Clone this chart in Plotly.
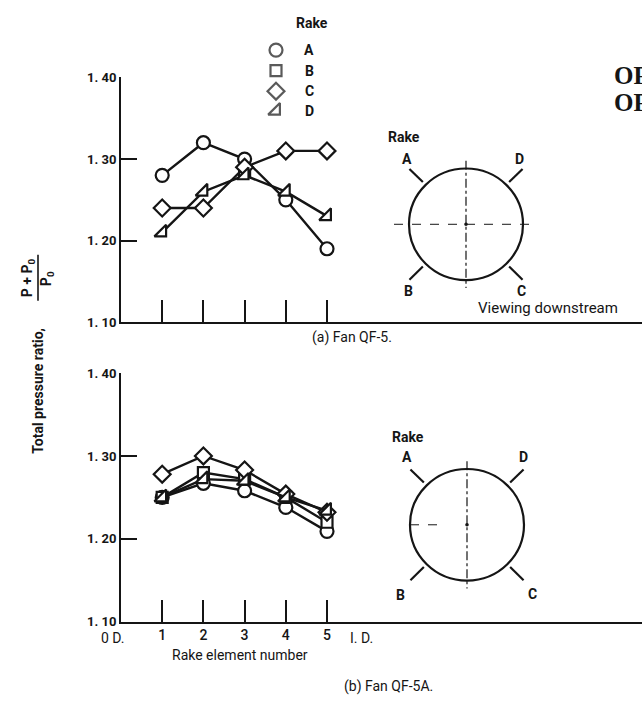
import plotly.graph_objects as go

W, H = 642, 708

# ---------------- data ----------------
elements = [1, 2, 3, 4, 5]
rakes = ["A", "B", "C", "D"]
symbols = {"A": "circle", "B": "square", "C": "diamond", "D": "triangle-se"}
sizes = {"A": 13, "B": 11, "C": 13, "D": 13}

qf5 = {
    "A": [1.28, 1.32, 1.30, 1.25, 1.19],
    "B": [None, None, 1.285, None, None],
    "C": [1.24, 1.24, 1.29, 1.31, 1.31],
    "D": [1.21, 1.26, 1.28, 1.26, 1.23],
}
qf5a = {
    "A": [1.25, 1.267, 1.258, 1.238, 1.209],
    "B": [1.25, 1.28, 1.272, 1.25, 1.22],
    "C": [1.278, 1.30, 1.283, 1.254, 1.232],
    "D": [1.25, 1.272, 1.27, 1.25, 1.234],
}
y_ticks = [1.10, 1.20, 1.30, 1.40]
y_ticktext = ["1. 10", "1. 20", "1. 30", "1. 40"]
x_ticktext = ["1", "2", "3", "4", "5"]

FONT = "Roboto, Liberation Sans, DejaVu Sans, sans-serif"
INK = "#151515"


def px(x):
    return x / W


def py(y):
    return 1 - y / H


fig = go.Figure()

for panel, data in (("1", qf5), ("2", qf5a)):
    for r in rakes:
        fig.add_trace(go.Scatter(
            x=elements, y=data[r], mode="lines+markers",
            xaxis="x" + ("" if panel == "1" else "2"),
            yaxis="y" + ("" if panel == "1" else "2"),
            line=dict(color=INK, width=2.4),
            marker=dict(symbol=symbols[r], size=sizes[r], color="white",
                        line=dict(color=INK, width=2.2)),
            showlegend=False, connectgaps=False,
        ))

# legend symbols drawn on a pixel-coordinate helper axis
leg_y = [44, 65, 86, 106]
fig.add_trace(go.Scatter(
    x=[276] * 4, y=leg_y, mode="markers", xaxis="x3", yaxis="y3",
    marker=dict(symbol=[symbols[r] for r in rakes], size=[13, 11, 13, 13],
                color="white", line=dict(color=INK, width=2.2)),
    showlegend=False, hoverinfo="skip",
))

x_range = [0, (W - 121) / 41.2]
common_x = dict(range=x_range, showline=True, linecolor=INK, linewidth=2,
                ticks="inside", ticklen=22, tickwidth=2, tickcolor=INK,
                tickvals=elements, showgrid=False, zeroline=False,
                tickfont=dict(family=FONT, size=14, color=INK, weight=500))
common_y = dict(range=[1.10, 1.40], showline=True, linecolor=INK, linewidth=2,
                ticks="inside", ticklen=16, tickwidth=2, tickcolor=INK,
                tickvals=y_ticks, ticktext=y_ticktext, showgrid=False,
                zeroline=False, tickfont=dict(family=FONT, size=13, color=INK, weight=700))

fig.update_layout(
    width=W, height=H, margin=dict(l=0, r=0, t=0, b=0),
    paper_bgcolor="white", plot_bgcolor="rgba(0,0,0,0)",
    xaxis=dict(domain=[px(121), 1], anchor="y", showticklabels=False, **common_x),
    yaxis=dict(domain=[py(322), py(72)], anchor="x", **common_y),
    xaxis2=dict(domain=[px(121), 1], anchor="y2", showticklabels=True,
                ticktext=x_ticktext, **common_x),
    yaxis2=dict(domain=[py(628), py(374)], anchor="x2", **common_y),
    xaxis3=dict(domain=[0, 1], range=[0, W], visible=False, anchor="y3"),
    yaxis3=dict(domain=[0, 1], range=[H, 0], visible=False, anchor="x3"),
)

shapes = []
annotations = []


def text(x, y, s, size=14, bold=False, family=FONT, angle=0, xanchor="center"):
    annotations.append(dict(
        x=px(x), y=py(y), xref="paper", yref="paper", text=f"<b>{s}</b>" if bold else s,
        showarrow=False, textangle=angle, xanchor=xanchor, yanchor="middle",
        font=dict(family=family, size=size, color=INK)))


def line(x0, y0, x1, y1, w=2, dash="solid"):
    shapes.append(dict(type="line", xref="paper", yref="paper",
                       x0=px(x0), y0=py(y0), x1=px(x1), y1=py(y1),
                       line=dict(color=INK, width=w, dash=dash)))


def diagram(cx, cy, r, labels, full_h):
    shapes.append(dict(type="circle", xref="paper", yref="paper",
                       x0=px(cx - r), x1=px(cx + r), y0=py(cy - r), y1=py(cy + r),
                       line=dict(color=INK, width=2.2)))
    k = 0.7071
    for sx, sy in ((-1, -1), (1, -1), (-1, 1), (1, 1)):
        line(cx + sx * 61 * k, cy + sy * 61 * k, cx + sx * 80 * k, cy + sy * 80 * k, w=2.2)
    line(cx, cy - r - 8, cx, cy + r + 8, w=1.2, dash="dashdot")
    if full_h:
        line(cx - r - 15, cy, cx + r + 15, cy, w=1, dash="dash")
    else:
        line(cx - r, cy, cx - r + 30, cy, w=1, dash="dash")
    shapes.append(dict(type="circle", xref="paper", yref="paper",
                       x0=px(cx - 1.8), x1=px(cx + 1.8), y0=py(cy - 1.8), y1=py(cy + 1.8),
                       fillcolor=INK, line=dict(color=INK, width=0)))
    for (lx, ly, s) in labels:
        text(lx, ly, s, size=14, bold=True)


diagram(466, 222, 57, [(404, 133, "Rake"), (407, 155, "A"), (519, 155, "D"),
                       (408, 290, "B"), (521, 290, "C")], True)
diagram(467, 529, 57, [(408, 439, "Rake"), (407, 460, "A"), (523, 460, "D"),
                       (400, 601, "B"), (532, 600, "C")], False)

text(548, 308, "Viewing downstream", size=15)

# legend
text(312, 16, "Rake", size=14, bold=True)
for yy, r in zip(leg_y, rakes):
    text(309, yy, r, size=14, bold=True)

# captions
text(352, 338, "(a) Fan QF-5.", size=14)
text(388, 694, "(b) Fan QF-5A.", size=14)
text(240, 662, "Rake element number", size=14)
text(113, 645, "0 D.", size=14)
text(362, 645, "I. D.", size=14)

# y-axis label
text(38, 392, "Total pressure ratio,", size=14, bold=True, angle=-90)
text(28, 277, "P + P<sub>0</sub>", size=14, bold=True, angle=-90)
line(38, 253, 38, 300, w=1.6)
text(47, 277, "P<sub>0</sub>", size=14, bold=True, angle=-90)

# cut-off title fragment at right edge
text(612, 70, "OF", size=25, bold=True, family="Liberation Serif, DejaVu Serif, serif",
     xanchor="left")
text(612, 98, "OF", size=25, bold=True, family="Liberation Serif, DejaVu Serif, serif",
     xanchor="left")

fig.update_layout(shapes=shapes, annotations=annotations)
fig.write_html("out.html")
